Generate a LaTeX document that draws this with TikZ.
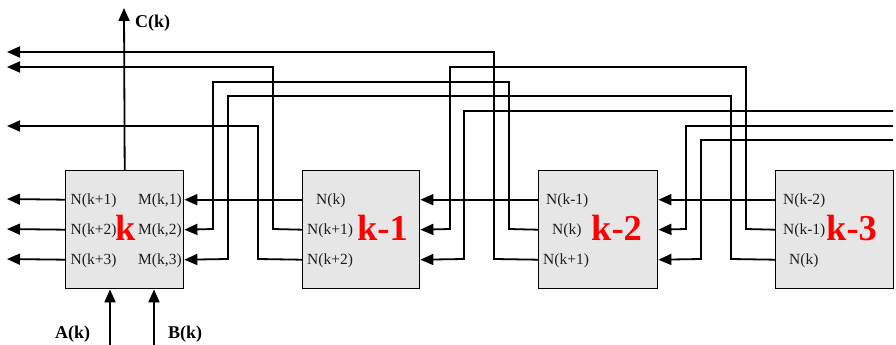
\documentclass[tikz,border=0pt]{standalone}
\usepackage{fontspec}
\setmainfont{Liberation Serif}
\usetikzlibrary{arrows.meta}
\definecolor{boxgray}{HTML}{E6E6E6}
\definecolor{txtgray}{HTML}{1E1E1E}
\definecolor{bigred}{HTML}{FF0000}
\begin{document}
\begin{tikzpicture}[x=1pt,y=-1pt,
  box/.style={draw=black,line width=1.4pt,fill=boxgray,minimum width=118pt,minimum height=118pt,inner sep=0pt,anchor=north west},
  sm/.style={font=\fontsize{15.5}{16}\selectfont,text=txtgray,inner sep=0pt,anchor=base west},
  big/.style={font=\fontsize{36.5}{37}\selectfont\bfseries,text=bigred,inner sep=0pt,anchor=base west},
  lab/.style={font=\fontsize{18}{19}\selectfont\bfseries,text=black,inner sep=0pt,anchor=base west},
  arr/.style={line width=1.8pt,-{Triangle[length=13pt,width=11pt]}}]
\useasboundingbox (0,0) rectangle (896,345);

% boxes
\node[box] (bk)  at (65,170) {};
\node[box,minimum width=117pt] (bk1) at (302,170) {};
\node[box,minimum width=119pt] (bk2) at (538,170) {};
\node[box] (bk3) at (775,170) {};

% ports
\foreach \b in {bk,bk1,bk2,bk3}{
  \coordinate (\b-l1) at ([yshift=30pt]\b.west);
  \coordinate (\b-l2) at (\b.west);
  \coordinate (\b-l3) at ([yshift=-30pt]\b.west);
  \coordinate (\b-r1) at ([yshift=30pt]\b.east);
  \coordinate (\b-r2) at (\b.east);
  \coordinate (\b-r3) at ([yshift=-30pt]\b.east);
}

% free ends
\coordinate (o1) at (7,199);
\coordinate (o2) at (7,229);
\coordinate (o3) at (7,259);
\coordinate (t52) at (7,52);
\coordinate (t67) at (7,67);
\coordinate (t126) at (7,126);
\coordinate (ck) at (124,8);
\coordinate (as) at (110,345);
\coordinate (bs) at (154,345);
\coordinate (e111) at (893,111);
\coordinate (e126) at (893,126);
\coordinate (e140) at (893,140);

% texts box k
\node[sm] (n1) at (70.5,204) {N(k+1)};
\node[sm] (n2) at (70.5,234) {N(k+2)};
\node[sm] (n3) at (70.5,264) {N(k+3)};
\node[sm] (m1) at (138,204) {M(k,1)};
\node[sm] (m2) at (138,234) {M(k,2)};
\node[sm] (m3) at (138,264) {M(k,3)};
\node[big] (Lk) at (115,240) {k};
% box k-1
\node[sm] (p1) at (316,204) {N(k)};
\node[sm] (p2) at (307,234) {N(k+1)};
\node[sm] (p3) at (307,264) {N(k+2)};
\node[big] (Lk1) at (357,240) {k-1};
% box k-2
\node[sm] (q1) at (546,204) {N(k-1)};
\node[sm] (q2) at (552,234) {N(k)};
\node[sm] (q3) at (543,264) {N(k+1)};
\node[big] (Lk2) at (591,240) {k-2};
% box k-3
\node[sm] (r1) at (783,204) {N(k-2)};
\node[sm] (r2) at (783,234) {N(k-1)};
\node[sm] (r3) at (789,264) {N(k)};
\node[big] (Lk3) at (826,240) {k-3};

% labels
\node[lab] (C) at (135,28) {C(k)};
\node[lab] (A) at (55,338) {A(k)};
\node[lab] (B) at (168,338) {B(k)};

% C, A, B arrows
\draw[arr] (bk.north) -- (ck);
\draw[arr] (as) -- (as |- bk.south);
\draw[arr] (bs) -- (bs |- bk.south);

% box k outputs
\draw[arr] (bk-l1) -- (o1);
\draw[arr] (bk-l2) -- (o2);
\draw[arr] (bk-l3) -- (o3);

% box k-1 outputs
\draw[arr] (bk1-l1) -- (bk-r1);
\draw[arr] (bk1-l2) -- (273,229) -- (273,67) -- (t67);
\draw[arr] (bk1-l3) -- (258,259) -- (258,126) -- (t126);

% box k-2 outputs
\draw[arr] (bk2-l1) -- (bk1-r1);
\draw[arr] (bk2-l2) -- (509,229) -- (509,82) -- (213,82) -- (213,229) -- (bk-r2);
\draw[arr] (bk2-l3) -- (494,259) -- (494,52) -- (t52);

% box k-3 outputs
\draw[arr] (bk3-l1) -- (bk2-r1);
\draw[arr] (bk3-l2) -- (746,229) -- (746,67) -- (450,67) -- (450,229) -- (bk1-r2);
\draw[arr] (bk3-l3) -- (731,259) -- (731,96) -- (228,96) -- (228,259) -- (bk-r3);

% inputs from the right
\draw[arr] (e111) -- (464,111) -- (464,259) -- (bk1-r3);
\draw[arr] (e126) -- (686,126) -- (686,229) -- (bk2-r2);
\draw[arr] (e140) -- (701,140) -- (701,259) -- (bk2-r3);
\end{tikzpicture}
\end{document}
